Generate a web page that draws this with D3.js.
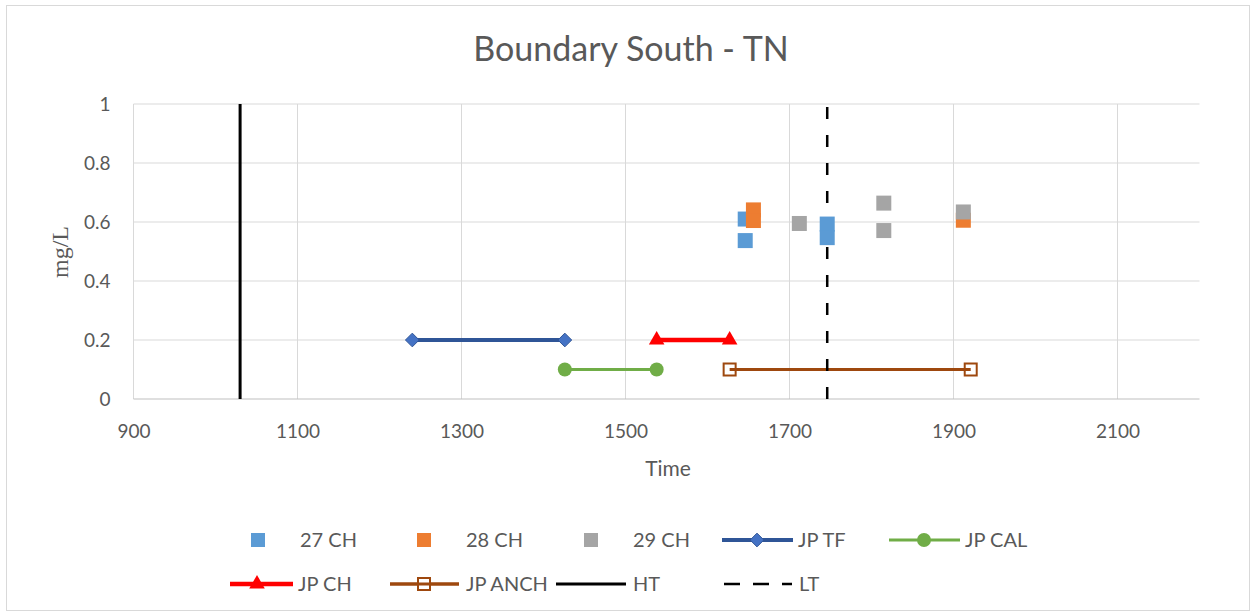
<!DOCTYPE html>
<html><head><meta charset="utf-8">
<script src="https://cdn.jsdelivr.net/npm/d3@7"></script>
<style>body{margin:0;background:#fff;} svg{display:block;}</style>
</head><body>
<svg id="c" width="1253" height="616"></svg>
<script>
const xTicks = [900, 1100, 1300, 1500, 1700, 1900, 2100];
const yTicks = [0, 0.2, 0.4, 0.6, 0.8, 1];
const ch27 = [[1646, 0.610], [1646, 0.537], [1746, 0.593], [1746, 0.547]];
const ch28 = [[1656, 0.641], [1656, 0.605], [1912, 0.606]];
const ch29 = [[1712, 0.595], [1815, 0.664], [1815, 0.571], [1912, 0.634]];
const jpTF = [[1240, 0.2], [1426, 0.2]];
const jpCAL = [[1426, 0.1], [1538, 0.1]];
const jpCH = [[1538, 0.2], [1627, 0.2]];
const jpANCH = [[1627, 0.1], [1921, 0.1]];
const ht = [[1030, 0], [1030, 1]];
const lt = [[1746, 0], [1746, 1]];
const legendNames = ["27 CH", "28 CH", "29 CH", "JP TF", "JP CAL", "JP CH", "JP ANCH", "HT", "LT"];

const svg = d3.select("#c");
const font = "Lato, 'Open Sans', sans-serif";
const txt = "#595959";
svg.append("rect").attr("x", 6.5).attr("y", 5.5).attr("width", 1243).attr("height", 605)
  .attr("fill", "#fff").attr("stroke", "#d9d9d9");

const x = d3.scaleLinear().domain([900, 2200]).range([133.5, 1199.5]);
const y = d3.scaleLinear().domain([0, 1]).range([399, 104]);

// gridlines
const g = svg.append("g");
g.selectAll(".vg").data(xTicks).join("line")
  .attr("x1", d => x(d)).attr("x2", d => x(d)).attr("y1", y(0)).attr("y2", y(1))
  .attr("stroke", "#d9d9d9").attr("stroke-width", 1);
g.selectAll(".hg").data(yTicks.filter(d => d > 0)).join("line")
  .attr("x1", x(900)).attr("x2", x(2200)).attr("y1", d => y(d)).attr("y2", d => y(d))
  .attr("stroke", "#d9d9d9").attr("stroke-width", 1);
g.append("line").attr("x1", x(900)).attr("x2", x(2200)).attr("y1", y(0)).attr("y2", y(0))
  .attr("stroke", "#bfbfbf").attr("stroke-width", 1);

// axes labels via d3 axes
const xAxis = svg.append("g").attr("transform", `translate(0,${y(0)})`)
  .call(d3.axisBottom(x).tickValues(xTicks).tickSize(0).tickPadding(26).tickFormat(d3.format("d")));
xAxis.select(".domain").remove();
xAxis.selectAll("text").attr("font-family", font).attr("font-size", 19).attr("fill", txt);
const yAxis = svg.append("g").attr("transform", `translate(${x(900)},0)`)
  .call(d3.axisLeft(y).tickValues(yTicks).tickSize(0).tickPadding(23).tickFormat(d => d === 0 ? "0" : d === 1 ? "1" : d3.format(".1f")(d)));
yAxis.select(".domain").remove();
yAxis.selectAll("text").attr("font-family", font).attr("font-size", 19).attr("fill", txt);

const line = d3.line().x(d => x(d[0])).y(d => y(d[1]));

// JP series lines
svg.append("path").datum(jpTF).attr("d", line).attr("fill", "none").attr("stroke", "#2f5597").attr("stroke-width", 4);
svg.append("path").datum(jpCAL).attr("d", line).attr("fill", "none").attr("stroke", "#70ad47").attr("stroke-width", 3);
svg.append("path").datum(jpCH).attr("d", line).attr("fill", "none").attr("stroke", "#ff0000").attr("stroke-width", 4.5);
svg.append("path").datum(jpANCH).attr("d", line).attr("fill", "none").attr("stroke", "#9e480e").attr("stroke-width", 3);

function diamond(sel, cx, cy) {
  sel.append("path").attr("d", d3.symbol(d3.symbolDiamond2, 120)())
    .attr("transform", `translate(${cx},${cy})`).attr("fill", "#4472c4").attr("stroke", "#2f5597").attr("stroke-width", 1);
}
function circle(sel, cx, cy) {
  sel.append("circle").attr("cx", cx).attr("cy", cy).attr("r", 7).attr("fill", "#70ad47");
}
function tri(sel, cx, cy) {
  sel.append("path").attr("d", d3.symbol(d3.symbolTriangle, 105)())
    .attr("transform", `translate(${cx},${cy})`).attr("fill", "#ff0000");
}
function osq(sel, cx, cy) {
  sel.append("rect").attr("x", cx - 6).attr("y", cy - 6).attr("width", 12).attr("height", 12)
    .attr("fill", "#fff").attr("stroke", "#9e480e").attr("stroke-width", 2);
}
jpTF.forEach(d => diamond(svg, x(d[0]), y(d[1])));
jpCAL.forEach(d => circle(svg, x(d[0]), y(d[1])));
jpCH.forEach(d => tri(svg, x(d[0]), y(d[1])));
jpANCH.forEach(d => osq(svg, x(d[0]), y(d[1])));
svg.append("path").datum(jpANCH).attr("d", line).attr("fill", "none").attr("stroke", "#9e480e").attr("stroke-width", 3);

// HT / LT
svg.append("path").datum(ht).attr("d", line).attr("stroke", "#000").attr("stroke-width", 3);
svg.append("path").datum(lt).attr("d", line).attr("stroke", "#000").attr("stroke-width", 2.5).attr("stroke-dasharray", "12,16");

// scatter squares
const sq = 15;
[[ch27, "#5b9bd5"], [ch28, "#ed7d31"], [ch29, "#a5a5a5"]].forEach(([data, col]) => {
  svg.append("g").selectAll("rect").data(data).join("rect")
    .attr("x", d => x(d[0]) - sq / 2).attr("y", d => y(d[1]) - sq / 2)
    .attr("width", sq).attr("height", sq).attr("fill", col);
});

// titles
svg.append("text").attr("x", 631).attr("y", 61).attr("text-anchor", "middle")
  .attr("font-family", font).attr("font-size", 34).attr("fill", txt).text("Boundary South - TN");
svg.append("text").attr("x", 668).attr("y", 476).attr("text-anchor", "middle")
  .attr("font-family", font).attr("font-size", 21).attr("fill", txt).text("Time");
svg.append("text").attr("transform", "translate(68,252) rotate(-90)").attr("text-anchor", "middle")
  .attr("font-family", "'Liberation Serif', 'DejaVu Serif', serif").attr("font-size", 24).attr("fill", txt).text("mg/L");

// legend
const lg = svg.append("g");
const r1 = 540, r2 = 584;
const lfs = 20;
function ltext(tx, ty, t) {
  lg.append("text").attr("x", tx).attr("y", ty).attr("dy", "0.35em").attr("font-family", font)
    .attr("font-size", lfs).attr("fill", txt).text(t);
}
function lsq(cx, cy, col) {
  lg.append("rect").attr("x", cx - 7).attr("y", cy - 7).attr("width", 14).attr("height", 14).attr("fill", col);
}
function lline(x1, x2, cy, col, w, dash) {
  const l = lg.append("line").attr("x1", x1).attr("x2", x2).attr("y1", cy).attr("y2", cy)
    .attr("stroke", col).attr("stroke-width", w);
  if (dash) l.attr("stroke-dasharray", dash);
}
lsq(258, r1, "#5b9bd5"); ltext(300, r1, legendNames[0]);
lsq(424, r1, "#ed7d31"); ltext(466, r1, legendNames[1]);
lsq(591, r1, "#a5a5a5"); ltext(633, r1, legendNames[2]);
lline(722, 793, r1, "#2f5597", 4); diamond(lg, 757, r1); ltext(798, r1, legendNames[3]);
lline(889, 960, r1, "#70ad47", 3); circle(lg, 924, r1); ltext(965, r1, legendNames[4]);
lline(230, 293, r2, "#ff0000", 4.5); tri(lg, 257, r2); ltext(298, r2, legendNames[5]);
lline(390, 459, r2, "#9e480e", 3); osq(lg, 424, r2); lline(390, 459, r2, "#9e480e", 3); ltext(466, r2, legendNames[6]);
lline(556, 626, r2, "#000", 3); ltext(633, r2, legendNames[7]);
lline(724, 792, r2, "#000", 2.5, "16,13"); ltext(799, r2, legendNames[8]);
</script>
</body></html>
